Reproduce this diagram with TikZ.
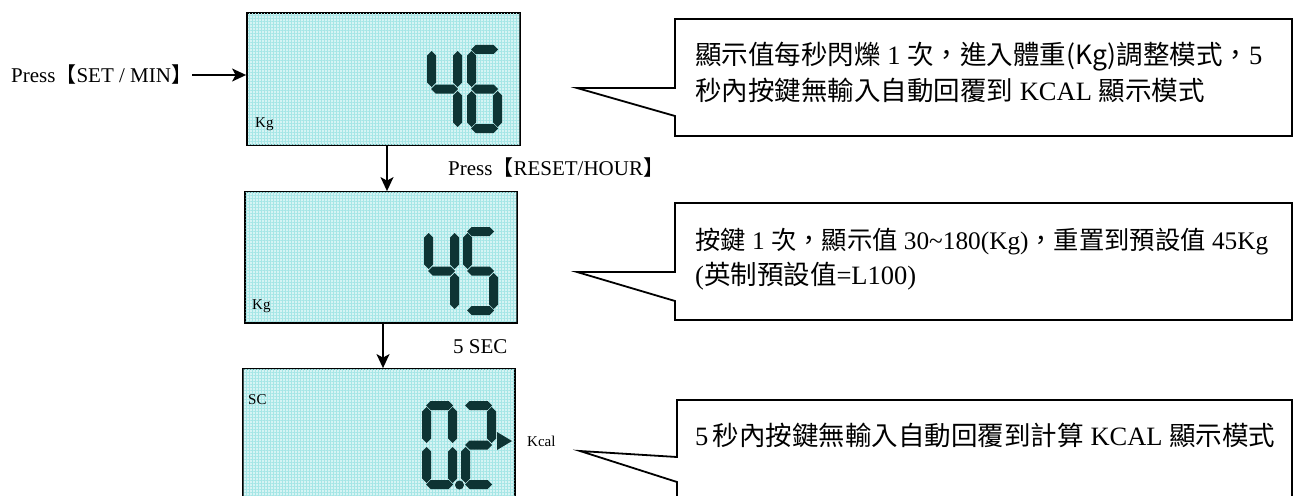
\documentclass[tikz,border=0pt]{standalone}
\usepackage{fontspec}
\setmainfont{Liberation Serif}
\newfontfamily\cjk{Noto Sans CJK TC}
\usetikzlibrary{arrows.meta,patterns.meta}
\definecolor{lcdbg}{RGB}{214,244,244}
\definecolor{lcdgrid}{RGB}{165,230,230}
\definecolor{digitcol}{RGB}{14,52,52}

\newcommand\lhseg[1]{\fill[digitcol] (4,#1)--(8.5,#1-4.5)--(26.5,#1-4.5)--(31,#1)--(26.5,#1+4.5)--(8.5,#1+4.5)--cycle;}
\newcommand\lvseg[3]{\fill[digitcol] (#1,#2)--(#1+4.5,#2+4.5)--(#1+4.5,#3-4.5)--(#1,#3)--(#1-4.5,#3-4.5)--(#1-4.5,#2+4.5)--cycle;}
\def\lsga{\lhseg{4.5}}
\def\lsgg{\lhseg{44}}
\def\lsgd{\lhseg{83.5}}
\def\lsgf{\lvseg{4.5}{6}{42}}
\def\lsgb{\lvseg{30.5}{6}{42}}
\def\lsge{\lvseg{4.5}{46}{82}}
\def\lsgc{\lvseg{30.5}{46}{82}}
\newcommand\lcddigit[3]{\begin{scope}[shift={(#1,#2)}]\foreach \s in {#3}{\csname lsg\s\endcsname}\end{scope}}

\begin{document}
\begin{tikzpicture}[x=1pt,y=-1pt,
  lcd/.style={draw=black, line width=1.8pt, fill=lcdbg, inner sep=0pt},
  gridtex/.style={pattern={Hatch[angle=0,distance=3pt,line width=0.4pt]}, pattern color=lcdgrid},
  lbl/.style={inner sep=0pt, font=\fontsize{21}{25}\selectfont},
  small/.style={inner sep=0pt, font=\fontsize{15}{18}\selectfont},
  note/.style={inner sep=0pt, anchor=base west, font=\fontsize{26.5}{32}\selectfont},
  arr/.style={line width=1.5pt, -{Stealth[length=14pt,width=13pt,inset=3.5pt]}},
  callout/.style={draw=black, line width=1.8pt, line join=miter, fill=white}]
\useasboundingbox (0,0) rectangle (1295,495);
\clip (0,0) rectangle (1295,495);

% LCD boxes
\node[lcd, minimum width=273pt, minimum height=132pt] (box1) at (383.5,79) {};
\node[lcd, minimum width=272pt, minimum height=131pt] (box2) at (381,257.5) {};
\node[lcd, minimum width=272pt, minimum height=131pt] (box3) at (379,434.5) {};

% texture
\foreach \b in {box1,box2,box3}{
  \fill[gridtex] ([shift={(1.5pt,1.5pt)}]\b.south west) rectangle ([shift={(-1.5pt,-1.5pt)}]\b.north east);
}

% digits
\lcddigit{427}{45}{f,b,g,c}
\lcddigit{467}{45}{a,f,g,e,c,d}
\lcddigit{424}{227}{f,b,g,c}
\lcddigit{463}{227}{a,f,g,c,d}
\lcddigit{422}{401}{a,b,c,d,e,f}
\lcddigit{461}{401}{a,b,g,e,d}
\fill[digitcol] (459.5,485) circle (4.5);
\fill[digitcol] (497,432) -- (512,441) -- (497,450) -- cycle;

% labels inside LCD
\node[small, anchor=west] (kg1) at (255,124) {Kg};
\node[small, anchor=west] (kg2) at (252,306) {Kg};
\node[small, anchor=west] (sc3) at (248,400) {SC};
\node[small, anchor=west] (kcal) at (527,441) {Kcal};

% press labels and arrows
\node[lbl, anchor=west] (press1) at (11,75) {Press{\cjk 【}SET / MIN{\cjk 】}};
\draw[arr] (press1.east) -- (press1.east -| box1.west);
\node[lbl, anchor=west] (press2) at (448,168) {Press{\cjk 【}RESET/HOUR{\cjk 】}};
\draw[arr] ([xshift=3.5pt]box1.south) -- ([xshift=3.5pt]box1.south |- box2.north);
\node[lbl, anchor=west] (sec5) at (453,347) {5 SEC};
\draw[arr] ([xshift=2pt]box2.south) -- ([xshift=2pt]box2.south |- box3.north);

% callouts
\draw[callout] (675,19) -- (1292,19) -- (1292,136) -- (675,136) -- (675,116) -- (577,88) -- (675,88) -- cycle;
\draw[callout] (675,203) -- (1292,203) -- (1292,320) -- (675,320) -- (675,301) -- (577,272) -- (675,272) -- cycle;
\draw[callout] (677,400) -- (1292,400) -- (1292,510) -- (677,510) -- (677,482) -- (580,451) -- (677,457) -- cycle;

\node[note] (n1a) at (695,65) {{\cjk 顯示值每秒閃爍} 1 {\cjk 次，進入體重(Kg)調整模式，}5};
\node[note] (n1b) at (695,100) {{\cjk 秒內按鍵無輸入自動回覆到} KCAL {\cjk 顯示模式}};
\node[note, font=\fontsize{25.3}{30}\selectfont] (n2a) at (695,249) {{\cjk 按鍵} 1 {\cjk 次，顯示值} 30\textasciitilde180(Kg){\cjk ，重置到預設值} 45Kg};
\node[note] (n2b) at (695,284) {({\cjk 英制預設值}=L100)};
\node[note] (n3) at (695,445) {5\,{\cjk 秒內按鍵無輸入自動回覆到計算} KCAL {\cjk 顯示模式}};
\end{tikzpicture}
\end{document}
